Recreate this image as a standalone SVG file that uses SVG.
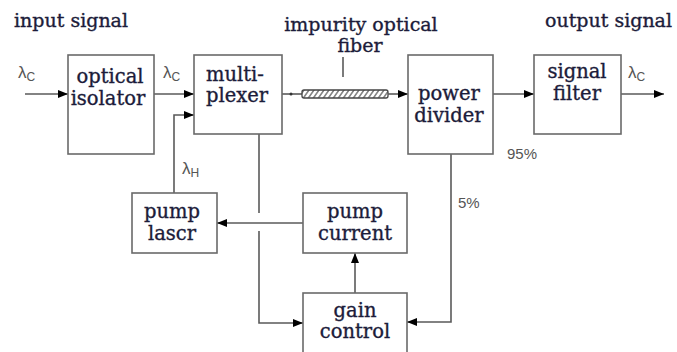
<svg xmlns="http://www.w3.org/2000/svg" width="677" height="352" viewBox="0 0 677 352">
<style>
.box{fill:#fff;stroke:#6a6a6a;stroke-width:1.6}
.lbl{font-family:"DejaVu Serif","Liberation Serif",serif;font-size:19.5px;fill:#1c1c3a;stroke:#1c1c3a;stroke-width:0.35}
.ttl{font-family:"DejaVu Serif","Liberation Serif",serif;font-size:19px;fill:#1c1c3a;stroke:#1c1c3a;stroke-width:0.35}
.sym{font-family:"Liberation Sans","DejaVu Sans",sans-serif;font-size:17px;fill:#555}
.pct{font-family:"Liberation Sans","DejaVu Sans",sans-serif;font-size:15px;fill:#555}
.ln{fill:none;stroke:#5a5a5a;stroke-width:1.6}
.arr{marker-end:url(#ah)}
</style>
<defs>
<marker id="ah" markerWidth="10" markerHeight="8" refX="10" refY="4" orient="auto" markerUnits="userSpaceOnUse">
<path d="M0,0 L10,4 L0,8 Z" fill="#000"/>
</marker>
<pattern id="hatch" width="5" height="8" patternUnits="userSpaceOnUse" patternTransform="skewX(-35)">
<line x1="2" y1="0" x2="2" y2="8" stroke="#444" stroke-width="1.3"/>
</pattern>
</defs>
<rect width="677" height="352" fill="#fff"/>

<g id="titles">
<text class="ttl" x="14" y="27">input signal</text>
<text class="ttl" x="545" y="27">output signal</text>
<text class="ttl" x="361" y="31" text-anchor="middle">impurity optical</text>
<text class="ttl" x="360" y="52" text-anchor="middle">fiber</text>
</g>

<g id="connectors">
<line class="ln arr" x1="25" y1="94" x2="68" y2="94"/>
<line class="ln arr" x1="154" y1="94" x2="194" y2="94"/>
<polyline class="ln arr" points="174,193 174,115 194,115"/>
<line class="ln" x1="282" y1="94" x2="302" y2="94"/>
<circle cx="291" cy="94" r="1.5" fill="#333"/>
<rect x="302" y="90" width="86" height="8" rx="2" fill="url(#hatch)" stroke="#444" stroke-width="1.3"/>
<line class="ln" x1="343" y1="57" x2="343" y2="77"/>
<line class="ln arr" x1="388" y1="94" x2="408" y2="94"/>
<line class="ln arr" x1="493" y1="94" x2="534" y2="94"/>
<line class="ln arr" x1="621" y1="94" x2="664" y2="94"/>
<line class="ln arr" x1="303" y1="223" x2="217" y2="223"/>
<line class="ln" x1="259" y1="134" x2="259" y2="213"/>
<polyline class="ln arr" points="259,231 259,323 303,323"/>
<line class="ln arr" x1="355" y1="293" x2="355" y2="253"/>
<polyline class="ln arr" points="451,154 451,322 407,322"/>
</g>

<g id="labels">
<text class="sym" x="18" y="78">λ<tspan font-size="12" dy="3">C</tspan></text>
<text class="sym" x="163" y="78">λ<tspan font-size="12" dy="3">C</tspan></text>
<text class="sym" x="628" y="78">λ<tspan font-size="12" dy="3">C</tspan></text>
<text class="sym" x="182" y="174">λ<tspan font-size="12" dy="3">H</tspan></text>
<text class="pct" x="507" y="159">95%</text>
<text class="pct" x="458" y="208">5%</text>
</g>

<g id="optical-isolator">
<rect class="box" x="68" y="55" width="86" height="99"/>
<text class="lbl" x="110" y="83" text-anchor="middle">optical</text>
<text class="lbl" x="108" y="105" text-anchor="middle">isolator</text>
</g>
<g id="multiplexer">
<rect class="box" x="194" y="55" width="88" height="79"/>
<text class="lbl" x="206" y="81" font-size="18.5">multi-</text>
<text class="lbl" x="206" y="102" font-size="18.5">plexer</text>
</g>
<g id="power-divider">
<rect class="box" x="408" y="55" width="85" height="99"/>
<text class="lbl" x="449" y="100" text-anchor="middle">power</text>
<text class="lbl" x="449" y="122" text-anchor="middle">divider</text>
</g>
<g id="signal-filter">
<rect class="box" x="534" y="55" width="87" height="79"/>
<text class="lbl" x="577" y="78" text-anchor="middle">signal</text>
<text class="lbl" x="577" y="100" text-anchor="middle">filter</text>
</g>
<g id="pump-laser">
<rect class="box" x="132" y="193" width="85" height="60"/>
<text class="lbl" x="172" y="218" text-anchor="middle">pump</text>
<text class="lbl" x="172" y="240" text-anchor="middle">lascr</text>
</g>
<g id="pump-current">
<rect class="box" x="303" y="193" width="104" height="60"/>
<text class="lbl" x="355" y="218" text-anchor="middle">pump</text>
<text class="lbl" x="355" y="240" text-anchor="middle">current</text>
</g>
<g id="gain-control">
<rect class="box" x="303" y="293" width="104" height="64"/>
<text class="lbl" x="355" y="317" text-anchor="middle">gain</text>
<text class="lbl" x="355" y="338" text-anchor="middle">control</text>
</g>
</svg>
